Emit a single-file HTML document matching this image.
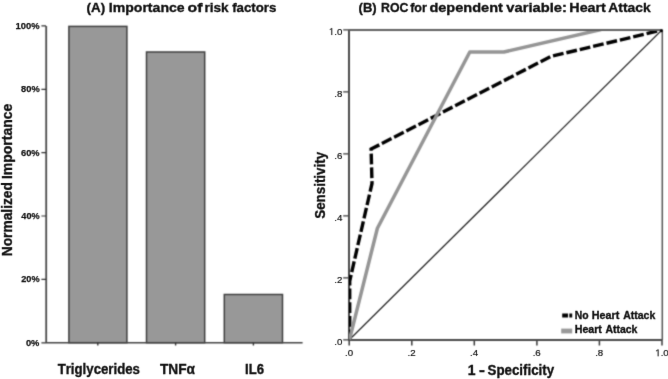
<!DOCTYPE html>
<html><head><meta charset="utf-8">
<style>
html,body{margin:0;padding:0;background:#fff;width:668px;height:379px;overflow:hidden}
svg{display:block;filter:grayscale(1)}
text{font-family:"Liberation Sans",sans-serif;fill:#111;font-kerning:none}
.b{font-weight:bold}
.s{stroke:#111;stroke-width:0.35}
</style></head><body>
<svg width="668" height="379" viewBox="0 0 668 379">
<defs>
<clipPath id="pc"><rect x="349" y="29.6" width="320" height="310.3"/></clipPath>
<filter id="bl" x="0" y="0" width="668" height="379" filterUnits="userSpaceOnUse" color-interpolation-filters="sRGB"><feConvolveMatrix order="3" kernelMatrix="1 4 1 4 16 4 1 4 1" edgeMode="duplicate"/></filter>
<filter id="bt" x="0" y="0" width="668" height="379" filterUnits="userSpaceOnUse" color-interpolation-filters="sRGB"><feConvolveMatrix order="3" kernelMatrix="0 1 0 1 12 1 0 1 0" edgeMode="none"/></filter>
</defs>
<rect width="668" height="379" fill="#fff"/>
<g filter="url(#bl)"><rect width="668" height="379" fill="#fff"/>
<!-- Panel A graphics -->
<g fill="#989898" stroke="#404040" stroke-width="1.5">
<rect x="68.9" y="26.4" width="58" height="316.3"/>
<rect x="146.5" y="52" width="58.2" height="290.7"/>
<rect x="224.3" y="294.5" width="58.2" height="48.2"/>
</g>
<g fill="none">
<path d="M46.2 25.9V342.8" stroke="#4a4a4a" stroke-width="1.8"/>
<path d="M46 342.7H302.6" stroke="#444" stroke-width="1.6"/>
<path d="M41.4 25.9H46M41.4 89.3H46M41.4 152.7H46M41.4 216.0H46M41.4 279.4H46M41.4 342.8H46" stroke="#333" stroke-width="1.2"/>
<path d="M97.8 342.7V345.6M175.6 342.7V345.6M253.4 342.7V345.6" stroke="#333" stroke-width="1.4"/>
</g>
<!-- Panel B graphics -->
<g fill="none">
<path d="M343.2 339.9H349M343.2 277.9H349M343.2 215.9H349M343.2 153.9H349M343.2 91.9H349M343.2 29.9H349" stroke="#3a3a3a" stroke-width="1.4"/>
<path d="M349.2 339.9V345.6M411.8 339.9V345.6M474.3 339.9V345.6M536.9 339.9V345.6M599.4 339.9V345.6M662 339.9V345.6" stroke="#3a3a3a" stroke-width="1.5"/>
<path d="M349 29.9V339.9H662" stroke="#4a4a4a" stroke-width="2"/>
<g clip-path="url(#pc)">
<path d="M349.2 339.9L662 29.9" stroke="#111" stroke-width="1.2"/>
<path d="M349.7 339.5L349.7 281L372 183.5L371.1 149.1L551 56.4L662.2 30" stroke="#000" stroke-width="3.4" stroke-dasharray="10.8 2.936" stroke-dashoffset="0.96"/>
<path d="M349.5 339.6L377.4 228.2L469.8 52L503.8 52L601 29.6" stroke="#959595" stroke-width="3.5" stroke-linejoin="round"/>
</g>
<path d="M349 30H662.2" stroke="#606060" stroke-width="1.9"/><path d="M662.3 29.5V339.9" stroke="#555" stroke-width="1.5"/>
<circle cx="661.4" cy="30.7" r="1.5" fill="#000"/>
</g>
<path d="M562.2 315.5H568M569.3 315.5H572.2" stroke="#000" stroke-width="3.8"/>
<path d="M561.2 331H572.2" stroke="#999" stroke-width="4.8"/>
</g>
<g filter="url(#bt)">
<text class="b s" x="86.53" y="11.90" font-size="13.7" textLength="18.64" lengthAdjust="spacingAndGlyphs">(A)</text>
<text class="b s" x="108.76" y="11.90" font-size="13.7" textLength="75.92" lengthAdjust="spacingAndGlyphs">Importance</text>
<text class="b s" x="187.58" y="11.90" font-size="13.7" textLength="14.89" lengthAdjust="spacingAndGlyphs">of</text>
<text class="b s" x="204.50" y="11.90" font-size="13.7" textLength="24.18" lengthAdjust="spacingAndGlyphs">risk</text>
<text class="b s" x="232.17" y="11.90" font-size="13.7" textLength="44.17" lengthAdjust="spacingAndGlyphs">factors</text>
<g class="b s" style="stroke-width:0.25">
<text class="" x="15.61" y="28.80" font-size="9.9" textLength="24.04" lengthAdjust="spacingAndGlyphs">100%</text>
<text class="" x="21.10" y="92.18" font-size="9.9" textLength="18.64" lengthAdjust="spacingAndGlyphs">80%</text>
<text class="" x="21.06" y="155.56" font-size="9.9" textLength="18.58" lengthAdjust="spacingAndGlyphs">60%</text>
<text class="" x="21.36" y="218.94" font-size="9.9" textLength="18.28" lengthAdjust="spacingAndGlyphs">40%</text>
<text class="" x="21.28" y="282.32" font-size="9.9" textLength="18.36" lengthAdjust="spacingAndGlyphs">20%</text>
<text class="" x="25.93" y="345.70" font-size="9.9" textLength="13.52" lengthAdjust="spacingAndGlyphs">0%</text>
</g>
<text class="b s" x="57.65" y="374.30" font-size="14" textLength="82.29" lengthAdjust="spacingAndGlyphs">Triglycerides</text>
<text class="b s" x="159.95" y="374.30" font-size="14" textLength="34.99" lengthAdjust="spacingAndGlyphs">TNFα</text>
<text class="b s" x="245.12" y="374.30" font-size="14" textLength="18.95" lengthAdjust="spacingAndGlyphs">IL6</text>
<g transform="translate(12.00,0) rotate(-90)">
<text class="b s" x="-256.32" y="0" font-size="14" textLength="74.23" lengthAdjust="spacingAndGlyphs">Normalized</text>
<text class="b s" x="-179.03" y="0" font-size="14" textLength="75.31" lengthAdjust="spacingAndGlyphs">Importance</text>
</g>
<text class="b s" x="358.55" y="11.90" font-size="13.7" textLength="18.10" lengthAdjust="spacingAndGlyphs">(B)</text>
<text class="b s" x="381.08" y="11.90" font-size="13.7" textLength="27.36" lengthAdjust="spacingAndGlyphs">ROC</text>
<text class="b s" x="410.19" y="11.90" font-size="13.7" textLength="16.70" lengthAdjust="spacingAndGlyphs">for</text>
<text class="b s" x="429.40" y="11.90" font-size="13.7" textLength="73.47" lengthAdjust="spacingAndGlyphs">dependent</text>
<text class="b s" x="506.34" y="11.90" font-size="13.7" textLength="60.57" lengthAdjust="spacingAndGlyphs">variable:</text>
<text class="b s" x="569.34" y="11.90" font-size="13.7" textLength="36.53" lengthAdjust="spacingAndGlyphs">Heart</text>
<text class="b s" x="608.36" y="11.90" font-size="13.7" textLength="42.23" lengthAdjust="spacingAndGlyphs">Attack</text>
<g font-size="9.7" text-anchor="end" class="s" style="stroke-width:0.2">
<text x="342.4" y="344.9">.0</text>
<text x="342.4" y="282.9">.2</text>
<text x="342.4" y="220.9">.4</text>
<text x="342.4" y="158.9">.6</text>
<text x="342.4" y="96.9">.8</text>
<text x="342.4" y="34.9">.0</text>
</g>
<g font-size="9.7" text-anchor="middle" class="s" style="stroke-width:0.2">
<text x="349" y="356.2">.0</text>
<text x="411.6" y="356.2">.2</text>
<text x="474.1" y="356.2">.4</text>
<text x="536.7" y="356.2">.6</text>
<text x="599.2" y="356.2">.8</text>
<text x="664.70" y="356.2">.0</text>
</g>
<g fill="#111" stroke="#111" stroke-width="30">
<path transform="translate(328.92,34.9) scale(0.004736,-0.004736)" d="M515 0V1237L197 1010V1180L530 1409H696V0Z"/>
<path transform="translate(655.26,356.2) scale(0.004736,-0.004736)" d="M515 0V1237L197 1010V1180L530 1409H696V0Z"/>
</g>
<text class="b s" x="467.72" y="375.00" font-size="14" textLength="7.77" lengthAdjust="spacingAndGlyphs">1</text>
<text class="b s" x="479.11" y="375.00" font-size="14" textLength="5.90" lengthAdjust="spacingAndGlyphs">-</text>
<text class="b s" x="487.52" y="375.00" font-size="14" textLength="66.66" lengthAdjust="spacingAndGlyphs">Specificity</text>
<g transform="translate(325.20,0) rotate(-90)">
<text class="b s" x="-218.79" y="0" font-size="14" textLength="66.86" lengthAdjust="spacingAndGlyphs">Sensitivity</text>
</g>
<text class="b s" x="574.71" y="318.80" font-size="10" textLength="13.80" lengthAdjust="spacingAndGlyphs">No</text>
<text class="b s" x="591.78" y="318.80" font-size="10" textLength="27.45" lengthAdjust="spacingAndGlyphs">Heart</text>
<text class="b s" x="623.24" y="318.80" font-size="10" textLength="32.05" lengthAdjust="spacingAndGlyphs">Attack</text>
<text class="b s" x="574.69" y="333.30" font-size="10" textLength="27.24" lengthAdjust="spacingAndGlyphs">Heart</text>
<text class="b s" x="605.44" y="333.30" font-size="10" textLength="31.95" lengthAdjust="spacingAndGlyphs">Attack</text>
</g>
</svg>
</body></html>
